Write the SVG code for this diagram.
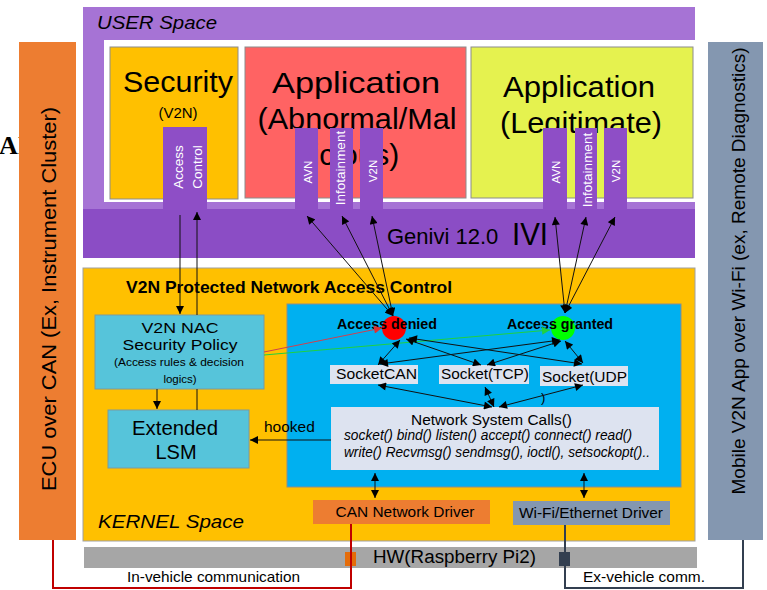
<svg xmlns="http://www.w3.org/2000/svg" width="767" height="590" viewBox="0 0 767 590">
<defs>
<style>
.t{font-family:"Liberation Sans",Arial,sans-serif;fill:#000}
.m{text-anchor:middle}
.w{fill:#fff}
.b{font-weight:bold}
.i{font-style:italic}
.tab{fill:#8E4EC6}
.ln{stroke:#111;stroke-width:1;fill:none}
.box{stroke:#8c8c8c;stroke-width:1}
</style>
<marker id="ah" viewBox="0 0 10 10" refX="10" refY="5" markerWidth="9" markerHeight="8" markerUnits="userSpaceOnUse" orient="auto-start-reverse"><path d="M0,0L10,5L0,10z" fill="#000"/></marker>
<marker id="ahr" viewBox="0 0 10 10" refX="10" refY="5" markerWidth="9" markerHeight="8" markerUnits="userSpaceOnUse" orient="auto"><path d="M0,0L10,5L0,10z" fill="#E03030"/></marker>
<marker id="ahg" viewBox="0 0 10 10" refX="10" refY="5" markerWidth="9" markerHeight="8" markerUnits="userSpaceOnUse" orient="auto"><path d="M0,0L10,5L0,10z" fill="#20D040"/></marker>
</defs>
<rect width="767" height="590" fill="#fff"/>

<text class="t b" x="-1" y="154" style="font-family:'Liberation Serif',serif;font-size:26px">AI</text>

<g id="ecu">
<rect x="19" y="42" width="57" height="498" fill="#ED7D31"/>
<text class="t m" transform="rotate(-90 56 299)" x="56" y="299" font-size="21" textLength="384" lengthAdjust="spacingAndGlyphs">ECU over CAN (Ex, Instrument Cluster)</text>
</g>

<g id="mobile">
<rect x="708" y="42" width="55" height="498" fill="#8497B0"/>
<text class="t m" transform="rotate(-90 745 271)" x="745" y="271" font-size="19" textLength="447" lengthAdjust="spacingAndGlyphs">Mobile V2N App over Wi-Fi (ex, Remote Diagnostics)</text>
</g>

<g id="user-space">
<rect x="83" y="7" width="612" height="251" fill="#A673D5"/>
<rect x="104" y="40" width="591" height="162" fill="#fff"/>
<text class="t i" x="97" y="29" font-size="18" fill="#222" textLength="120" lengthAdjust="spacingAndGlyphs">USER Space</text>
</g>

<g id="security">
<rect class="box" x="110" y="47" width="128" height="152" fill="#FFC000"/>
<text class="t m" x="178" y="92" font-size="29" textLength="110" lengthAdjust="spacingAndGlyphs">Security</text>
<text class="t m" x="178" y="118" font-size="15">(V2N)</text>
</g>

<g id="app-abnormal">
<rect class="box" x="245" y="47" width="221" height="151" fill="#FF6363"/>
<text class="t m" x="356" y="93" font-size="30" textLength="168" lengthAdjust="spacingAndGlyphs">Application</text>
<text class="t m" x="357" y="129" font-size="30" textLength="199" lengthAdjust="spacingAndGlyphs">(Abnormal/Mal</text>
<text class="t m" x="356" y="165" font-size="30">icious)</text>
</g>

<g id="app-legit">
<rect class="box" x="471" y="47" width="222" height="151" fill="#E5F24F"/>
<text class="t m" x="579" y="97" font-size="30" textLength="152" lengthAdjust="spacingAndGlyphs">Application</text>
<text class="t m" x="581" y="133" font-size="30" textLength="162" lengthAdjust="spacingAndGlyphs">(Legitimate)</text>
</g>

<g id="genivi">
<rect x="83" y="209" width="612" height="49" fill="#8B4DC5"/>
<text class="t" x="387" y="244" font-size="22" fill="#111">Genivi 12.0</text>
<text class="t" x="512" y="245" font-size="31" fill="#111" textLength="36" lengthAdjust="spacingAndGlyphs">IVI</text>
</g>

<g id="tab-access-control">
<rect class="tab" x="163" y="127" width="44" height="83"/>
<text class="t w m" transform="rotate(-90 183 167)" x="183" y="167" font-size="13.5">Access</text>
<text class="t w m" transform="rotate(-90 202 167)" x="202" y="167" font-size="13.5">Control</text>
</g>
<g id="tab-avn-1">
<rect class="tab" x="295" y="128" width="23" height="82"/>
<text class="t w m" transform="rotate(-90 312 172)" x="312" y="172" font-size="11.5">AVN</text>
</g>
<g id="tab-info-1">
<rect class="tab" x="330" y="128" width="23" height="82"/>
<text class="t w m" transform="rotate(-90 345 168)" x="345" y="168" font-size="13.5">Infotainment</text>
</g>
<g id="tab-v2n-1">
<rect class="tab" x="360" y="128" width="23" height="82"/>
<text class="t w m" transform="rotate(-90 377 171)" x="377" y="171" font-size="11.5">V2N</text>
</g>
<g id="tab-avn-2">
<rect class="tab" x="543" y="128" width="24" height="82"/>
<text class="t w m" transform="rotate(-90 560 172)" x="560" y="172" font-size="11.5">AVN</text>
</g>
<g id="tab-info-2">
<rect class="tab" x="575" y="128" width="22" height="82"/>
<text class="t w m" transform="rotate(-90 592 170)" x="592" y="170" font-size="13.5">Infotainment</text>
</g>
<g id="tab-v2n-2">
<rect class="tab" x="604" y="128" width="23" height="82"/>
<text class="t w m" transform="rotate(-90 620 171)" x="620" y="171" font-size="11.5">V2N</text>
</g>

<g id="kernel">
<rect x="83" y="268" width="612" height="273" fill="#FFC000" stroke="#a0a0a0" stroke-width="1"/>
<text class="t b" x="126" y="293" font-size="17" textLength="326" lengthAdjust="spacingAndGlyphs">V2N Protected Network Access Control</text>
<text class="t i" x="98" y="528" font-size="18" fill="#222" textLength="146" lengthAdjust="spacingAndGlyphs">KERNEL Space</text>
</g>

<g id="nac-policy">
<rect x="95" y="315" width="169" height="74" fill="#56C4DA" stroke="#7a9aa0" stroke-width="1"/>
<text class="t m" x="180" y="333" font-size="15" textLength="77" lengthAdjust="spacingAndGlyphs">V2N NAC</text>
<text class="t m" x="180" y="350" font-size="15" textLength="115" lengthAdjust="spacingAndGlyphs">Security Policy</text>
<text class="t m" x="179" y="366" font-size="11.5" fill="#333" textLength="130" lengthAdjust="spacingAndGlyphs">(Access rules &amp; decision</text>
<text class="t m" x="180" y="383" font-size="11.5" fill="#333">logics)</text>
</g>

<g id="extended-lsm">
<rect x="108" y="410" width="141" height="58" fill="#56C4DA" stroke="#7a9aa0" stroke-width="1"/>
<text class="t m" x="175" y="435" font-size="20" textLength="86" lengthAdjust="spacingAndGlyphs">Extended</text>
<text class="t m" x="176" y="459" font-size="20">LSM</text>
</g>

<g id="network-area">
<rect x="287" y="304" width="394" height="183" fill="#00B0F0" stroke="#8c8c8c" stroke-width="1"/>
</g>

<g id="access-denied">
<circle cx="394" cy="328" r="12" fill="#FF0000"/>
<text class="t b" x="337" y="329" font-size="14" textLength="100" lengthAdjust="spacingAndGlyphs">Access denied</text>
</g>
<g id="access-granted">
<circle cx="563" cy="328" r="12" fill="#00FF00"/>
<text class="t b" x="507" y="329" font-size="14" textLength="106" lengthAdjust="spacingAndGlyphs">Access granted</text>
</g>

<g id="socketcan">
<rect x="330" y="365" width="88" height="19" fill="#DDE3F0"/>
<text class="t" x="336" y="379" font-size="15.5" textLength="81" lengthAdjust="spacingAndGlyphs">SocketCAN</text>
</g>
<g id="socket-tcp">
<rect x="439" y="365" width="90" height="19" fill="#DDE3F0"/>
<text class="t" x="441" y="379" font-size="15.5" textLength="88" lengthAdjust="spacingAndGlyphs">Socket(TCP)</text>
</g>
<g id="socket-udp">
<rect x="540" y="366" width="88" height="20" fill="#DDE3F0"/>
<text class="t" x="542" y="382" font-size="15.5" textLength="85" lengthAdjust="spacingAndGlyphs">Socket(UDP</text>
<text class="t" x="541" y="402" font-size="13">)</text>
</g>

<g id="network-system-calls">
<rect x="331" y="407" width="328" height="63" fill="#DDE3F0"/>
<text class="t" x="411" y="425" font-size="15.5" textLength="161" lengthAdjust="spacingAndGlyphs">Network System Calls()</text>
<text class="t i" x="344" y="440" font-size="14" fill="#222" textLength="288" lengthAdjust="spacingAndGlyphs">socket() bind() listen() accept() connect() read()</text>
<text class="t i" x="344" y="457" font-size="14" fill="#222" textLength="306" lengthAdjust="spacingAndGlyphs">write() Recvmsg() sendmsg(), ioctl(), setsockopt()..</text>
</g>

<g id="can-driver">
<rect x="313" y="500" width="177" height="24" fill="#ED7D31"/>
<text class="t m" x="405" y="517" font-size="15" fill="#222" textLength="139" lengthAdjust="spacingAndGlyphs">CAN Network Driver</text>
</g>
<g id="wifi-driver">
<rect x="513" y="501" width="157" height="24" fill="#8497B0"/>
<text class="t m" x="591" y="518" font-size="15" fill="#222" textLength="144" lengthAdjust="spacingAndGlyphs">Wi-Fi/Ethernet Driver</text>
</g>

<g id="hw">
<rect x="84" y="547" width="613" height="21" fill="#A6A6A6"/>
<text class="t" x="373" y="563" font-size="18" fill="#111" textLength="163" lengthAdjust="spacingAndGlyphs">HW(Raspberry Pi2)</text>
<rect x="345" y="552" width="11" height="14" fill="#E46C0A"/>
<rect x="559" y="552" width="11" height="14" fill="#333F50"/>
</g>

<g id="connectors">
<line class="ln" x1="180" y1="215" x2="180" y2="314" marker-end="url(#ah)"/>
<line class="ln" x1="197" y1="315" x2="197" y2="212" marker-end="url(#ah)"/>
<line class="ln" x1="157" y1="389" x2="157" y2="409" marker-end="url(#ah)"/>
<line class="ln" x1="197" y1="389" x2="197" y2="410"/>
<line class="ln" x1="331" y1="440" x2="250" y2="440" marker-end="url(#ah)"/>
<text class="t" x="264" y="432" font-size="15.5">hooked</text>

<line class="ln" x1="393" y1="316" x2="307" y2="216" marker-start="url(#ah)" marker-end="url(#ah)"/>
<line class="ln" x1="393" y1="316" x2="342" y2="216" marker-start="url(#ah)" marker-end="url(#ah)"/>
<line class="ln" x1="393" y1="316" x2="372" y2="216" marker-start="url(#ah)" marker-end="url(#ah)"/>
<line class="ln" x1="565" y1="313" x2="555" y2="217" marker-start="url(#ah)" marker-end="url(#ah)"/>
<line class="ln" x1="565" y1="313" x2="586" y2="217" marker-start="url(#ah)" marker-end="url(#ah)"/>
<line class="ln" x1="565" y1="313" x2="615" y2="217" marker-start="url(#ah)" marker-end="url(#ah)"/>

<line x1="264" y1="352" x2="382" y2="328" stroke="#D04050" stroke-width="1" marker-end="url(#ahr)"/>
<line x1="264" y1="355" x2="550" y2="330" stroke="#20D040" stroke-width="1" marker-end="url(#ahg)"/>

<line class="ln" x1="378" y1="365" x2="400" y2="340" marker-start="url(#ah)" marker-end="url(#ah)"/>
<line class="ln" x1="380" y1="364" x2="560" y2="340" marker-start="url(#ah)" marker-end="url(#ah)"/>
<line class="ln" x1="481" y1="365" x2="406" y2="339" marker-start="url(#ah)" marker-end="url(#ah)"/>
<line class="ln" x1="487" y1="365" x2="561" y2="341" marker-start="url(#ah)" marker-end="url(#ah)"/>
<line class="ln" x1="582" y1="364" x2="409" y2="338" marker-start="url(#ah)" marker-end="url(#ah)"/>
<line class="ln" x1="583" y1="363" x2="565" y2="341" marker-start="url(#ah)" marker-end="url(#ah)"/>

<line class="ln" x1="378" y1="385" x2="492" y2="407" marker-start="url(#ah)" marker-end="url(#ah)"/>
<line class="ln" x1="485" y1="387" x2="494" y2="407" marker-start="url(#ah)" marker-end="url(#ah)"/>
<line class="ln" x1="583" y1="385" x2="499" y2="407" marker-start="url(#ah)" marker-end="url(#ah)"/>

<line class="ln" x1="375" y1="473" x2="375" y2="498" marker-start="url(#ah)" marker-end="url(#ah)"/>
<line class="ln" x1="584" y1="473" x2="584" y2="498" marker-start="url(#ah)" marker-end="url(#ah)"/>

<polyline points="351,524 351,588 53,588 53,540" fill="none" stroke="#C00000" stroke-width="2"/>
<polyline points="565,525 565,588 743,588 743,540" fill="none" stroke="#333F50" stroke-width="2"/>
<text class="t" x="127" y="582" font-size="15" fill="#111" textLength="173" lengthAdjust="spacingAndGlyphs">In-vehicle communication</text>
<text class="t" x="583" y="582" font-size="15" fill="#111" textLength="122" lengthAdjust="spacingAndGlyphs">Ex-vehicle comm.</text>
</g>
</svg>
